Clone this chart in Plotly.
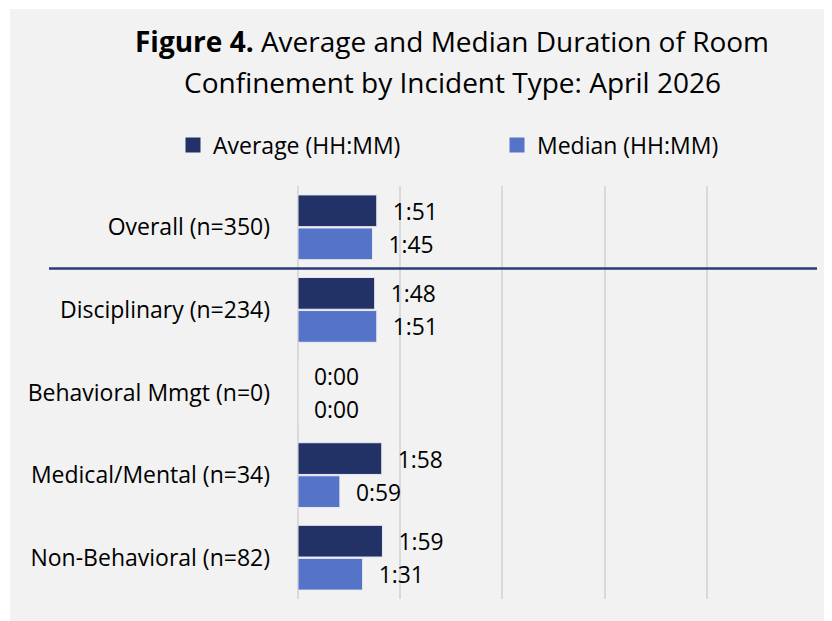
import plotly.graph_objects as go

categories = [
    "Overall (n=350)",
    "Disciplinary (n=234)",
    "Behavioral Mmgt (n=0)",
    "Medical/Mental (n=34)",
    "Non-Behavioral (n=82)",
]
average_minutes = [111, 108, 0, 118, 119]
median_minutes = [105, 111, 0, 59, 91]
series_names = ["Average (HH:MM)", "Median (HH:MM)"]
title_lines = [
    "<b>Figure 4.</b> Average and Median Duration of Room",
    "Confinement by Incident Type: April 2026",
]


def hhmm(m):
    return f"{m // 60}:{m % 60:02d}"


FONT = "Open Sans"
FS = 23
AVG_COLOR = "#223166"
MED_COLOR = "#5574C8"
BG = "#F2F2F2"

# page offset of the figure inside the browser page (body margin)
O = 8
W, H = 832, 621
L, R, T, B = 290, 31, 178, 30
pw, ph = W - L - R, H - T - B


def px_x(rx):
    return (rx - O - L) / pw


def px_y(ry):
    return (H - B - (ry - O)) / ph


fig = go.Figure()
for name, vals, color in [
    (series_names[0], average_minutes, AVG_COLOR),
    (series_names[1], median_minutes, MED_COLOR),
]:
    fig.add_trace(
        go.Bar(
            y=categories,
            x=vals,
            name=name,
            orientation="h",
            marker=dict(color=color, line=dict(color="#E8EAF2", width=1)),
            text=["\u2007" + hhmm(v) for v in vals],
            textposition="outside",
            textfont=dict(family=FONT, size=FS, color="#000000"),
            cliponaxis=False,
            showlegend=False,
        )
    )

# legend entries (square swatches)
for name, color in [(series_names[0], AVG_COLOR), (series_names[1], MED_COLOR)]:
    fig.add_trace(
        go.Scatter(
            x=[None],
            y=[None],
            mode="markers",
            name=name,
            marker=dict(symbol="square", size=15, color=color),
            showlegend=True,
        )
    )

fig.update_layout(
    width=W,
    height=H,
    margin=dict(l=L, r=R, t=T, b=B, pad=0),
    paper_bgcolor="#FFFFFF",
    plot_bgcolor=BG,
    barmode="group",
    bargap=0.2,
    bargroupgap=0.04,
    font=dict(family=FONT, size=FS, color="#000000"),
    title=dict(
        text=title_lines[0],
        font=dict(family=FONT, size=28, color="#000000"),
        xref="container",
        yref="container",
        x=(452 - O) / W,
        xanchor="center",
        y=1 - (42 - O) / H,
        yanchor="middle",
    ),
    annotations=[
        dict(
            text=title_lines[1],
            font=dict(family=FONT, size=28, color="#000000"),
            xref="paper",
            yref="paper",
            x=px_x(452),
            y=px_y(82),
            xanchor="center",
            yanchor="middle",
            showarrow=False,
        )
    ],
    legend=dict(
        orientation="h",
        x=px_x(173),
        xanchor="left",
        y=px_y(145),
        yanchor="middle",
        font=dict(family=FONT, size=FS, color="#000000"),
        bgcolor="rgba(0,0,0,0)",
        traceorder="normal",
        entrywidth=279,
        entrywidthmode="pixels",
    ),
    xaxis=dict(
        range=[0, 720],
        dtick=144,
        tick0=0,
        showgrid=True,
        gridcolor="#D9D9D9",
        gridwidth=1.5,
        zeroline=True,
        zerolinecolor="#D9D9D9",
        zerolinewidth=1.5,
        showticklabels=False,
        showline=False,
        fixedrange=True,
    ),
    yaxis=dict(
        autorange="reversed",
        showgrid=False,
        showline=False,
        ticks="",
        ticklabelstandoff=27,
        tickfont=dict(family=FONT, size=FS, color="#000000"),
        fixedrange=True,
    ),
    shapes=[
        dict(
            type="rect",
            xref="paper",
            yref="paper",
            x0=px_x(10),
            x1=px_x(W + 20),
            y0=px_y(H + 20),
            y1=px_y(9),
            fillcolor=BG,
            line=dict(width=0),
            layer="below",
        ),
        dict(
            type="line",
            xref="paper",
            yref="y",
            x0=px_x(49),
            x1=px_x(817),
            y0=0.5,
            y1=0.5,
            line=dict(color="#2A3B78", width=2.5),
            layer="above",
        ),
    ],
)

fig.write_html("out.html")
